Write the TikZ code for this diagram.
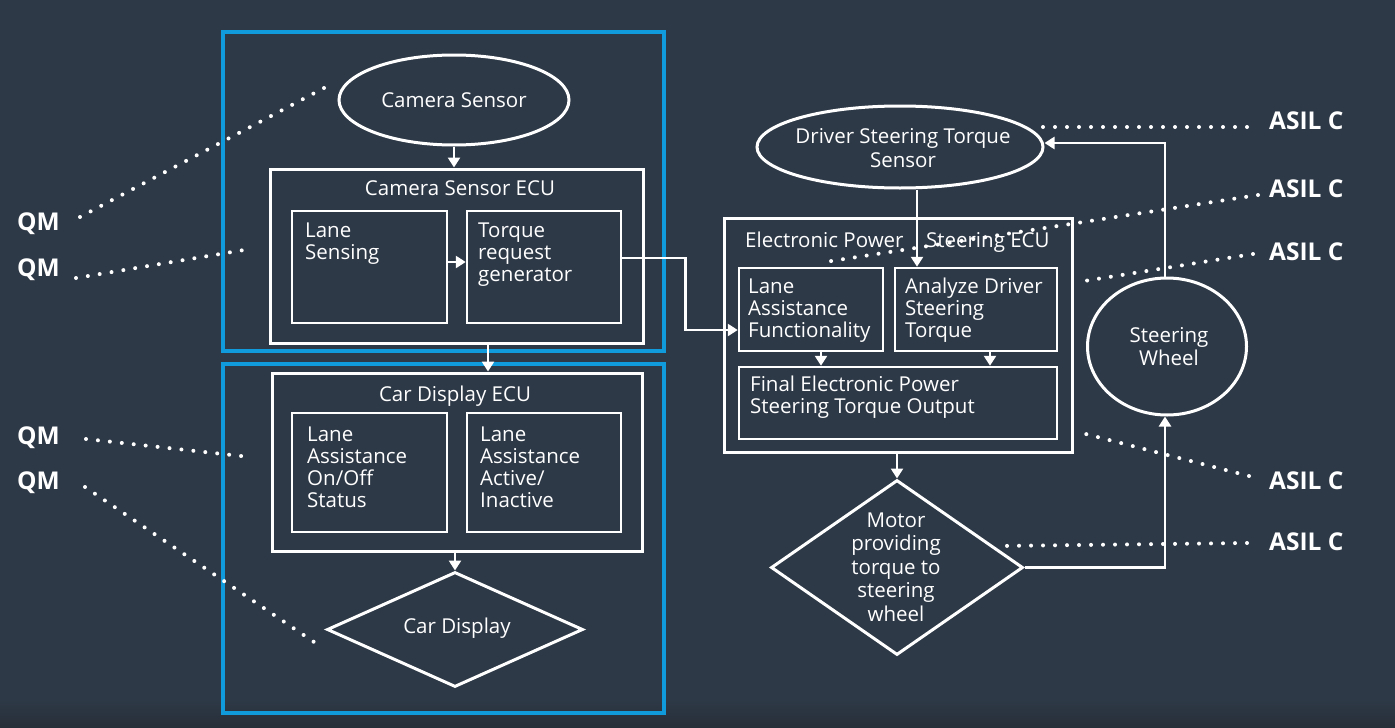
\documentclass[tikz,border=0pt]{standalone}
\usepackage{fontspec}
\setmainfont{Open Sans}
\usetikzlibrary{arrows.meta,shapes.geometric}
\definecolor{bgc}{HTML}{2E3947}
\definecolor{bgd}{HTML}{262E38}
\definecolor{bluec}{HTML}{109CDC}
\newcommand\mlinesL[1]{\vtop{\baselineskip=22pt\lineskiplimit=-20pt\halign{##\hfil\cr#1\crcr}}}
\newcommand\mlinesC[2]{\vtop{\baselineskip=#1\lineskiplimit=-20pt\halign{\hfil##\hfil\cr#2\crcr}}}
\begin{document}
\begin{tikzpicture}[x=1pt,y=-1pt,
  wbox/.style={draw=white,line width=3pt,inner sep=0pt,rectangle},
  ibox/.style={draw=white,line width=2.5pt,inner sep=0pt,rectangle},
  bbox/.style={draw=bluec,line width=3.5pt,inner sep=0pt,rectangle},
  wellipse/.style={draw=white,line width=3pt,inner sep=0pt,ellipse},
  wdiamond/.style={draw=white,line width=3pt,inner sep=0pt,diamond},
  txt/.style={inner sep=0pt,text=white,font=\fontsize{20.5}{22}\selectfont},
  lab/.style={inner sep=0pt,text=white,font=\fontsize{24.5}{28}\selectfont\bfseries,anchor=base west},
  arr/.style={draw=white,line width=2.5pt,-{Triangle[width=12pt,length=10pt]}},
  dotline/.style={draw=white,line width=4pt,line cap=round,dash pattern=on 0pt off 12pt}]
\useasboundingbox (0,0) rectangle (1395,728);
\fill[bgc] (0,0) rectangle (1395,728);
\shade[top color=bgc,bottom color=bgd] (0,700) rectangle (1395,728);

% blue frames
\node[bbox,minimum width=441pt,minimum height=319pt] (blue1) at (443.5,191.5) {};
\node[bbox,minimum width=441pt,minimum height=349pt] (blue2) at (443.5,538.5) {};

% left column
\node[wellipse,minimum width=230pt,minimum height=90pt] (cam) at (454,100) {};
\node[txt,anchor=base] at (454,107) {Camera Sensor};
\node[wbox,minimum width=373pt,minimum height=174pt] (csecu) at (456.5,256) {};
\node[txt,anchor=base] at (460,195) {Camera Sensor ECU};
\node[ibox,minimum width=155pt,minimum height=112pt] (lsense) at (369.5,267) {};
\node[txt,anchor=base west] at (305,237) {\mlinesL{Lane\cr Sensing}};
\node[ibox,minimum width=154pt,minimum height=112pt] (trq) at (544,267) {};
\node[txt,anchor=base west] at (478,237) {\mlinesL{Torque\cr request\cr generator}};

\node[wbox,minimum width=370pt,minimum height=178pt] (cdecu) at (457,462) {};
\node[txt,anchor=base] at (455,401) {Car Display ECU};
\node[ibox,minimum width=155pt,minimum height=119pt] (laos) at (369.5,472.5) {};
\node[txt,anchor=base west] at (307,441) {\mlinesL{Lane\cr Assistance\cr On/Off\cr Status}};
\node[ibox,minimum width=154pt,minimum height=119pt] (laai) at (544,472.5) {};
\node[txt,anchor=base west] at (480,441) {\mlinesL{Lane\cr Assistance\cr Active/\cr Inactive}};
\node[wdiamond,minimum width=256pt,minimum height=115pt] (cdisp) at (455,629.5) {};
\node[txt,anchor=base] at (457,633) {Car Display};

% right column
\node[wellipse,minimum width=286pt,minimum height=82pt] (dsts) at (900,147) {};
\node[txt,anchor=base] at (903,143) {\mlinesC{24pt}{Driver Steering Torque\cr Sensor}};
\node[wbox,minimum width=348pt,minimum height=234pt] (epsecu) at (898,335) {};
\node[txt,anchor=base west] at (745,247) {Electronic Power\hspace{1.1em}Steering ECU};
\node[ibox,minimum width=144pt,minimum height=83pt] (laf) at (811,309.5) {};
\node[txt,anchor=base west] at (748,293) {\mlinesL{Lane\cr Assistance\cr Functionality}};
\node[ibox,minimum width=162pt,minimum height=83pt] (adst) at (976,309.5) {};
\node[txt,anchor=base west] at (905,293) {\mlinesL{Analyze Driver\cr Steering\cr Torque}};
\node[ibox,minimum width=318pt,minimum height=72pt] (fin) at (898,403) {};
\node[txt,anchor=base west] at (750,391) {\mlinesL{Final Electronic Power\cr Steering Torque Output}};
\node[wdiamond,minimum width=252pt,minimum height=175pt] (motor) at (897,567.5) {};
\node[txt,anchor=base] at (896,527) {\mlinesC{23.5pt}{Motor\cr providing\cr torque to\cr steering\cr wheel}};
\node[wellipse,minimum width=159pt,minimum height=137pt] (sw) at (1167,346.5) {};
\node[txt,anchor=base] at (1169,342) {\mlinesC{23pt}{Steering\cr Wheel}};

% connectors
\draw[arr] (cam.south) -- (cam.south |- csecu.north);
\draw[arr] ([yshift=5pt]lsense.east) -- ([yshift=5pt]trq.west);
\draw[arr] ([yshift=9pt]trq.east) -- ++(63,0) |- ([yshift=-20.5pt]laf.west);
\draw[arr] ([xshift=31.5pt]csecu.south) -- ([xshift=31.5pt]csecu.south |- cdecu.north);
\draw[arr] (cdecu.south -| cdisp.north) -- (cdisp.north);
\draw[arr] ([xshift=17pt]dsts.south) -- ([xshift=-59pt]adst.north);
\draw[arr] ([xshift=10pt]laf.south) -- ([xshift=10pt]laf.south |- fin.north);
\draw[arr] ([xshift=14pt]adst.south) -- ([xshift=14pt]adst.south |- fin.north);
\draw[arr] (motor.north |- epsecu.south) -- (motor.north);
\draw[arr] (motor.east) -| ([xshift=-2pt]sw.south);
\draw[arr] ([xshift=-2pt]sw.north) |- ([yshift=4pt]dsts.east);

% labels
\node[lab] (qm1) at (17,230) {QM};
\node[lab] (qm2) at (17,276) {QM};
\node[lab] (qm3) at (17,444.5) {QM};
\node[lab] (qm4) at (17,489) {QM};
\node[lab] (as1) at (1269,129) {ASIL C};
\node[lab] (as2) at (1269,197) {ASIL C};
\node[lab] (as3) at (1269,260.5) {ASIL C};
\node[lab] (as4) at (1269,489) {ASIL C};
\node[lab] (as5) at (1269,550.5) {ASIL C};

% dotted leaders
\coordinate (q1a) at (80,217); \coordinate (q1b) at (324,88);
\coordinate (q2a) at (76,278); \coordinate (q2b) at (250,249);
\coordinate (q3a) at (86,439); \coordinate (q3b) at (250,457);
\coordinate (q4a) at (85,487); \coordinate (q4b) at (314,642);
\coordinate (a1a) at (1247,127); \coordinate (a1b) at (1043,127);
\coordinate (a2a) at (1258,195); \coordinate (a2b) at (825,262);
\coordinate (a3a) at (1253,254); \coordinate (a3b) at (1078,282);
\coordinate (a4a) at (1249,476); \coordinate (a4b) at (1078,432);
\coordinate (a5a) at (1247,543); \coordinate (a5b) at (997,546);
\foreach \p in {q1,q2,q3,q4,a1,a2,a3,a4,a5}{\draw[dotline] (\p a) -- (\p b);}
\end{tikzpicture}
\end{document}
